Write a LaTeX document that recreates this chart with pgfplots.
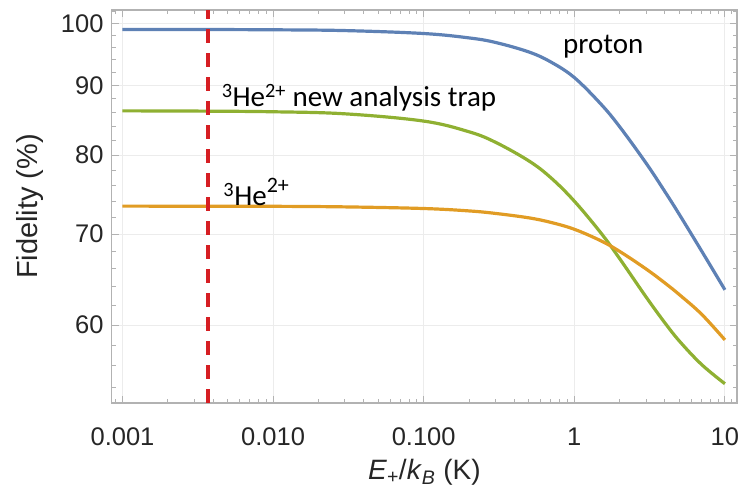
\documentclass[border=0pt]{standalone}
\usepackage{fontspec}
\setmainfont{Liberation Sans}
\newfontfamily\calib{Carlito}
\usepackage{pgfplots}
\pgfplotsset{compat=1.18}
\definecolor{mblue}{RGB}{94,129,181}
\definecolor{morange}{RGB}{225,156,36}
\definecolor{mgreen}{RGB}{143,176,50}
\definecolor{mred}{RGB}{214,30,35}
\definecolor{framegray}{RGB}{178,178,178}
\definecolor{gridgray}{RGB}{236,236,236}

\pgfplotstableread{
x y
0.001 98.98
0.003 98.97
0.01 98.92
0.03 98.79
0.1 98.30
0.2 97.57
0.3 96.82
0.5 95.27
0.7 93.66
1.0 91.24
1.5 87.24
2.0 83.95
3.0 78.92
4.0 75.20
5.0 72.31
7.0 68.02
10 63.69
}\proton

\pgfplotstableread{
x y
0.001 86.23
0.003 86.20
0.01 86.10
0.03 85.80
0.1 84.75
0.2 83.23
0.3 81.76
0.5 79.22
0.7 77.00
1.0 74.01
1.5 70.14
2.0 67.14
3.0 62.91
4.0 60.21
5.0 58.37
7.0 56.12
10 54.32
}\newtrap

\pgfplotstableread{
x y
0.001 73.39
0.003 73.38
0.01 73.36
0.03 73.30
0.1 73.09
0.2 72.79
0.3 72.49
0.5 71.94
0.7 71.39
1.0 70.57
1.5 69.21
2.0 67.97
3.0 65.97
4.0 64.42
5.0 63.15
7.0 61.11
10 58.51
}\helium

\begin{document}
\begin{tikzpicture}
\begin{axis}[
  scale only axis, width=625.3pt, height=393pt,
  xmode=log, ymode=log,
  xmin=0.000848, xmax=12.03, ymin=52.58, ymax=102.3,
  xtick={0.001,0.01,0.1,1,10},
  xticklabels={0.001,0.010,0.100,1,10},
  minor xtick={0.0009,0.002,0.003,0.004,0.005,0.006,0.007,0.008,0.009,0.02,0.03,0.04,0.05,0.06,0.07,0.08,0.09,0.2,0.3,0.4,0.5,0.6,0.7,0.8,0.9,2,3,4,5,6,7,8,9,11},
  ytick={60,70,80,90,100},
  yticklabels={60,70,80,90,100},
  minor ytick={54,56,58,62,64,66,68,72,74,76,78,82,84,86,88,92,94,96,98,102},
  grid=major,
  major grid style={gridgray, line width=0.9pt},
  axis line style={framegray, line width=1.4pt},
  tick style={framegray, line width=1pt},
  major tick length=7pt, minor tick length=4pt,
  tick align=inside,
  /pgf/number format/assume math mode=true,
  tick label style={font=\fontsize{25.5}{25.5}\selectfont, color=black!85},
  yticklabel style={anchor=east, inner sep=0pt, xshift=-8pt},
  xticklabel style={anchor=base, inner sep=0pt, yshift=-43pt},
  xlabel={\textit{E}\textsubscript{+}/\textit{k}\textsubscript{\textit{B}} (K)},
  xlabel style={at={(axis description cs:0.5,0)}, anchor=base, inner sep=0pt, yshift=-77pt, font=\fontsize{28}{28}\selectfont, color=black!85},
  ylabel={Fidelity (\%)},
  ylabel style={at={(axis description cs:-0.131,0.5)}, anchor=center, inner sep=0pt, font=\fontsize{29}{29}\selectfont, color=black!85},
  clip=true,
]
\coordinate (SW) at (rel axis cs:0,0);
\addplot[mblue, line width=3.2pt, smooth, tension=0.6] table[x=x,y=y] {\proton};
\addplot[mgreen, line width=3.2pt, smooth, tension=0.6] table[x=x,y=y] {\newtrap};
\addplot[morange, line width=3.2pt, smooth, tension=0.6] table[x=x,y=y] {\helium};
\addplot[mred, line width=3.2pt, dash pattern=on 14pt off 10pt] coordinates {(0.0037,52.58) (0.0037,102.3)};
\node[anchor=base west, inner sep=0pt, font=\calib\fontsize{29}{29}\selectfont] at (axis cs:0.841,95.05) {proton};
\node[anchor=base west, inner sep=0pt, font=\calib\fontsize{29}{29}\selectfont] at (axis cs:0.004557,86.83) {\textsuperscript{3}He\textsuperscript{2+} new analysis trap};
\node[anchor=base west, inner sep=0pt, font=\calib\fontsize{29}{29}\selectfont] at (axis cs:0.00467,73.51) {\textsuperscript{3}He\raisebox{0.42em}{\fontsize{22}{22}\selectfont 2+}};
\end{axis}
\pgfresetboundingbox
\path (SW) ++(-111.7pt,-87pt) rectangle ++(742pt,490pt);
\end{tikzpicture}
\end{document}
